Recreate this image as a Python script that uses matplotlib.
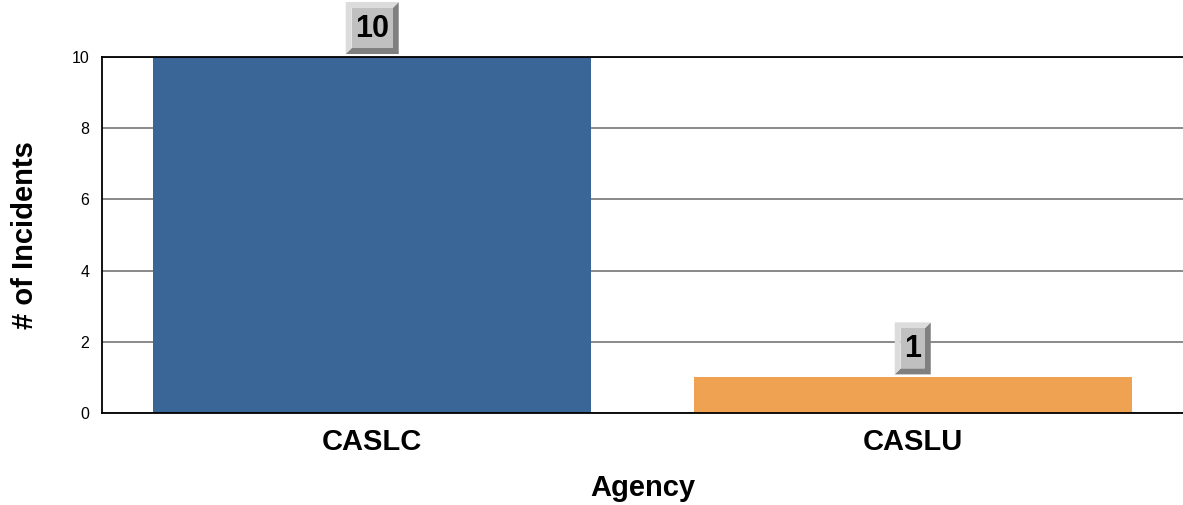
import matplotlib
matplotlib.use("Agg")
import matplotlib.pyplot as plt
import matplotlib.transforms as mtransforms
from matplotlib.patches import Polygon

# data
agencies = ["CASLC", "CASLU"]
incidents = [10, 1]
bar_colors = ["#3a6597", "#eea252"]
y_ticks = [0, 2, 4, 6, 8, 10]

plt.rcParams['font.family'] = ['Liberation Sans', 'DejaVu Sans']

fig = plt.figure(figsize=(11.83, 5.05), dpi=100)
ax = fig.add_axes([0.0862, 0.1822, 0.9138, 0.7049])

xpos = list(range(len(agencies)))
ax.bar(xpos, incidents, width=0.81, color=bar_colors, zorder=2)

ax.set_xlim(-0.5, len(agencies) - 0.5)
ax.set_ylim(0, 10)
ax.set_yticks(y_ticks)
ax.set_xticks(xpos)
ax.set_xticklabels(agencies, fontsize=21, fontweight='bold')
ax.tick_params(axis='y', length=0, pad=9, labelsize=11.5)
ax.tick_params(axis='x', length=0, pad=11)

ax.set_axisbelow(True)
ax.yaxis.grid(True, color='#808080', linewidth=1.3)
ax.xaxis.grid(False)
for side in ['left', 'bottom', 'top']:
    ax.spines[side].set_color('black')
    ax.spines[side].set_linewidth(1.3)
ax.spines['right'].set_visible(False)

ax.set_ylabel('# of Incidents', fontsize=21, fontweight='bold', va='center')
ax.yaxis.set_label_coords(-0.071, 0.5)
ax.set_xlabel('Agency', fontsize=21, fontweight='bold', va='center')
ax.xaxis.set_label_coords(0.5, -0.21)

# bevelled value boxes above the bars
renderer = fig.canvas.get_renderer()
gap, box_h, bev, pad = 3, 52, 6, 9.5
for xi, val in zip(xpos, incidents):
    anchor = mtransforms.ScaledTranslation(xi, val, ax.transData)
    trans = mtransforms.Affine2D() + anchor
    t = ax.text(0, gap + box_h / 2 - 1, str(val), transform=trans, ha='center', va='center',
                fontsize=22, fontweight='bold', color='black', zorder=6, clip_on=False)
    w = t.get_window_extent(renderer).width + 2 * pad
    L, R, B, T = -w / 2, w / 2, gap, gap + box_h
    light = [(L, B), (L, T), (R, T), (R - bev, T - bev), (L + bev, T - bev), (L + bev, B + bev)]
    dark = [(L, B), (R, B), (R, T), (R - bev, T - bev), (R - bev, B + bev), (L + bev, B + bev)]
    face = [(L + bev, B + bev), (R - bev, B + bev), (R - bev, T - bev), (L + bev, T - bev)]
    for verts, col in [(dark, '#7f7f7f'), (light, '#dcdcdc'), (face, '#c0c0c0')]:
        ax.add_patch(Polygon(verts, closed=True, facecolor=col, edgecolor='none',
                             transform=trans, zorder=5, clip_on=False))

fig.savefig('out.png', dpi=100)
